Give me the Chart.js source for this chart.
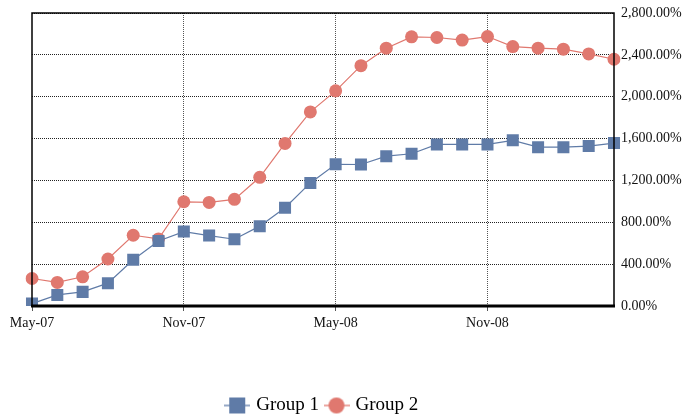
<!DOCTYPE html>
<html>
<head>
<meta charset="utf-8">
<script src="https://cdn.jsdelivr.net/npm/chart.js@4"></script>
<style>
  html, body { margin: 0; padding: 0; background: #fff; }
  #wrap { width: 691px; height: 417px; }
</style>
</head>
<body>
<div id="wrap"><canvas id="chart" width="691" height="417"></canvas></div>
<script>
var months = ['May-07','Jun-07','Jul-07','Aug-07','Sep-07','Oct-07','Nov-07','Dec-07','Jan-08','Feb-08','Mar-08','Apr-08',
  'May-08','Jun-08','Jul-08','Aug-08','Sep-08','Oct-08','Nov-08','Dec-08','Jan-09','Feb-09','Mar-09','Apr-09']
var group1 = [23,106,135,218,442,622,711,673,638,763,939,1176,1354,1352,1432,1455,1544,1544,1544,1583,1518,1518,1528,1557]
var group2 = [263,225,279,449,676,641,996,990,1019,1230,1554,1855,2056,2297,2464,2572,2566,2541,2575,2479,2464,2454,2409,2358]
var yTicks = [0,400,800,1200,1600,2000,2400,2800]

var blue = '#5f7ba7'
var red = '#e0786f'
var serif = "'Liberation Serif', 'DejaVu Serif', serif"

// legend icon: short line with the marker on it
function legendIcon(color, shape) {
  let c = document.createElement('canvas')
  c.width = 26
  c.height = 20
  let ctx = c.getContext('2d')
  ctx.strokeStyle = color
  ctx.lineWidth = 1.3
  ctx.beginPath()
  ctx.moveTo(0, 10)
  ctx.lineTo(26, 10)
  ctx.stroke()
  ctx.fillStyle = color
  if (shape == 'rect') {
    ctx.fillRect(5, 2, 16, 16)
  } else {
    ctx.beginPath()
    ctx.arc(13, 10, 8, 0, Math.PI * 2)
    ctx.fill()
  }
  return c
}

var frame = {
  id: 'frame',
  afterDraw(chart) {
    let a = chart.chartArea
    let ctx = chart.ctx
    ctx.save()
    ctx.strokeStyle = '#000'
    ctx.lineWidth = 1.5
    ctx.beginPath()
    ctx.moveTo(a.left, a.bottom)
    ctx.lineTo(a.left, a.top)
    ctx.lineTo(a.right, a.top)
    ctx.lineTo(a.right, a.bottom)
    ctx.stroke()
    ctx.lineWidth = 3
    ctx.beginPath()
    ctx.moveTo(a.left - 1, a.bottom)
    ctx.lineTo(a.right + 1, a.bottom)
    ctx.stroke()
    ctx.restore()
  }
}

new Chart(document.getElementById('chart'), {
  type: 'line',
  data: {
    labels: months,
    datasets: [{
      label: 'Group 1',
      data: group1,
      borderColor: blue,
      backgroundColor: blue,
      borderWidth: 1.2,
      pointStyle: 'rect',
      pointRadius: 8.5,
      pointBorderWidth: 0,
      tension: 0
    }, {
      label: 'Group 2',
      data: group2,
      borderColor: red,
      backgroundColor: red,
      borderWidth: 1.2,
      pointStyle: 'circle',
      pointRadius: 6.5,
      pointBorderWidth: 0,
      tension: 0
    }]
  },
  options: {
    responsive: false,
    animation: false,
    layout: { padding: { left: 32, top: 13, right: 0, bottom: -8 } },
    scales: {
      x: {
        offset: false,
        grid: {
          color: ctx => (ctx.index % 6 == 0 && ctx.index > 0) ? '#555' : 'rgba(0,0,0,0)',
          lineWidth: 1,
          tickLength: 5,
          tickColor: ctx => (ctx.index % 6 == 0) ? '#555' : 'rgba(0,0,0,0)'
        },
        border: { display: false, dash: [1, 1] },
        ticks: {
          autoSkip: false,
          maxRotation: 0,
          color: '#111',
          font: { family: serif, size: 14 },
          padding: 4,
          callback: function(v, i) { return i % 6 == 0 ? months[i] : '' }
        },
        afterFit: function(scale) { scale.height = 82 }
      },
      y: {
        position: 'right',
        min: 0,
        max: 2800,
        afterBuildTicks: function(scale) { scale.ticks = yTicks.map(v => ({ value: v })) },
        grid: { color: '#222', lineWidth: 1, drawTicks: false },
        border: { display: false, dash: [1, 1] },
        ticks: {
          color: '#111',
          font: { family: serif, size: 14 },
          padding: 7,
          callback: v => v.toLocaleString('en-US') + '.00%'
        },
        afterFit: function(scale) {
          scale.width = 77
          scale.paddingTop = 0
        }
      }
    },
    plugins: {
      tooltip: { enabled: false },
      legend: {
        position: 'bottom',
        fullSize: false,
        labels: {
          usePointStyle: true,
          color: '#111',
          font: { family: serif, size: 19 },
          padding: 8,
          generateLabels: function(chart) {
            return chart.data.datasets.map((ds, i) => ({
              text: ds.label,
              fillStyle: ds.backgroundColor,
              strokeStyle: ds.borderColor,
              lineWidth: 0,
              pointStyle: legendIcon(ds.borderColor, ds.pointStyle),
              datasetIndex: i
            }))
          }
        }
      }
    }
  },
  plugins: [frame]
})
</script>
</body>
</html>
